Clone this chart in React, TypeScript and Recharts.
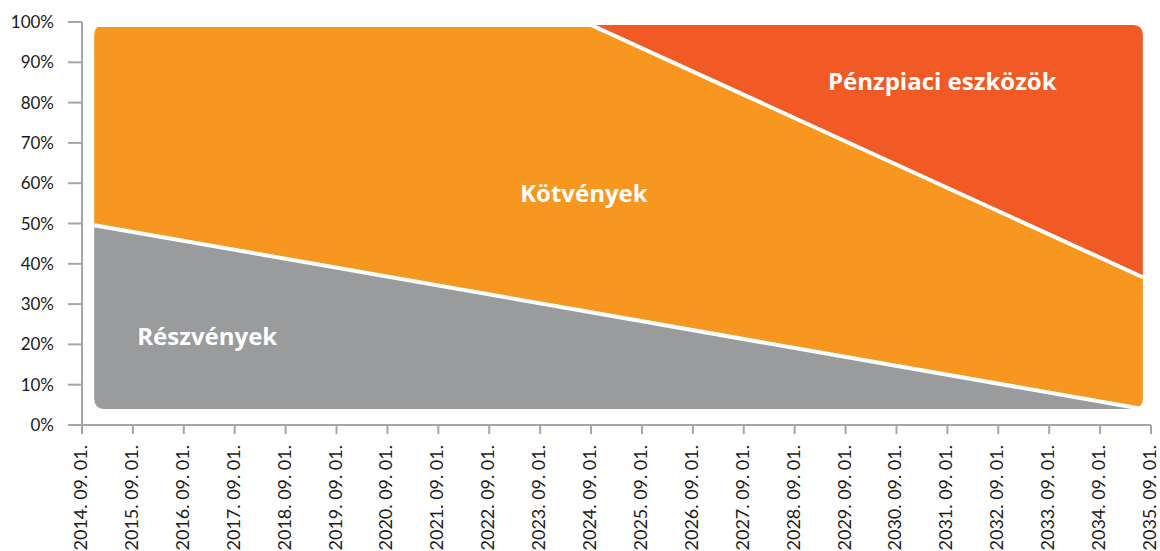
import React from "react";
import { ComposedChart, Area, Line, XAxis, YAxis, ReferenceDot, ReferenceArea } from "recharts";

// Year index positions (0 = 2014. 09. 01.) where the allocation boundaries bend
const xPoints = [0.24, 10, 20.84];
const baseValues = [3.97, 3.97, 3.97];
const stockValues = [45.6, 24.0, 0];
const bondValues = [49.7, 71.3, 32.7];
const moneyValues = [0, 0, 62.6];

const tickLabels = [
  "2014. 09. 01.", "2015. 09. 01.", "2016. 09. 01.", "2017. 09. 01.", "2018. 09. 01.",
  "2019. 09. 01.", "2020. 09. 01.", "2021. 09. 01.", "2022. 09. 01.", "2023. 09. 01.",
  "2024. 09. 01.", "2025. 09. 01.", "2026. 09. 01.", "2027. 09. 01.", "2028. 09. 01.",
  "2029. 09. 01.", "2030. 09. 01.", "2031. 09. 01.", "2032. 09. 01.", "2033. 09. 01.",
  "2034. 09. 01.", "2035. 09. 01.",
];
const yTicks = [0, 10, 20, 30, 40, 50, 60, 70, 80, 90, 100];

const seriesNames = ["Részvények", "Kötvények", "Pénzpiaci eszközök"];
const labelX = [2.46, 9.86, 16.9];
const labelY = [22.1, 57.8, 85.6];

const X_DOMAIN: [number, number] = [0, 21];
const Y_DOMAIN: [number, number] = [0, 100];

const data = xPoints.map((x, i) => ({
  x,
  base: baseValues[i],
  stock: stockValues[i],
  bond: bondValues[i],
  money: moneyValues[i],
  stockTop: baseValues[i] + stockValues[i],
  bondTop: baseValues[i] + stockValues[i] + bondValues[i],
}));

const last = xPoints.length - 1;
const areaLeft = xPoints[0];
const areaRight = xPoints[last];
const areaBottom = baseValues[0];
const areaTop = baseValues[0] + stockValues[0] + bondValues[0] + moneyValues[0];

const FONT = "Lato, 'Open Sans', sans-serif";
const LABEL_FONT = "'Open Sans', Lato, sans-serif";
const GRAY = "#9a9b9d";
const ORANGE = "#f7971f";
const RED = "#f15a24";
const AXIS = "#a6a6a6";

const XTick = (props: any) => {
  const { x, y, payload } = props;
  return (
    <text
      transform={`translate(${x - 2},${y}) rotate(-90)`}
      textAnchor="end"
      dominantBaseline="central"
      fontFamily={FONT}
      fontSize={18}
      fill="#1a1a1a"
    >
      {tickLabels[payload.value]}
    </text>
  );
};

const SeriesLabel = (text: string) => (props: any) => {
  const vb = props.viewBox || {};
  const cx = (vb.x ?? 0) + (vb.width ?? 0) / 2;
  const cy = (vb.y ?? 0) + (vb.height ?? 0) / 2;
  return (
    <text
      x={cx}
      y={cy}
      textAnchor="middle"
      dominantBaseline="central"
      fontFamily={LABEL_FONT}
      fontWeight={700}
      fontSize={24}
      fill="#ffffff"
    >
      {text}
    </text>
  );
};

// White masks that round the four corners of the stacked block
const CornerMasks = (props: any) => {
  const vb = props.viewBox || {};
  if (vb.width == null) return null;
  const L = vb.x;
  const R = vb.x + vb.width;
  const T = vb.y;
  const B = vb.y + vb.height;
  const r = 9;
  const e = 3;
  const paths = [
    `M${L - e},${T - e} L${L + r},${T - e} L${L + r},${T} A${r},${r} 0 0 0 ${L},${T + r} L${L - e},${T + r} Z`,
    `M${R + e},${T - e} L${R + e},${T + r} L${R},${T + r} A${r},${r} 0 0 0 ${R - r},${T} L${R - r},${T - e} Z`,
    `M${L - e},${B + e} L${L - e},${B - r} L${L},${B - r} A${r},${r} 0 0 0 ${L + r},${B} L${L + r},${B + e} Z`,
    `M${R + e},${B + e} L${R - r},${B + e} L${R - r},${B} A${r},${r} 0 0 0 ${R},${B - r} L${R + e},${B - r} Z`,
  ];
  return (
    <g>
      {paths.map((d, i) => (
        <path key={i} d={d} fill="#ffffff" stroke="none" />
      ))}
    </g>
  );
};

export default function App() {
  return (
    <div style={{ position: "absolute", left: 0, top: 0, width: 1160, height: 551, background: "#fff" }}>
      <ComposedChart
        width={1160}
        height={551}
        data={data}
        margin={{ top: 22, right: 9, bottom: 0, left: 0 }}
      >
        <XAxis
          dataKey="x"
          type="number"
          domain={X_DOMAIN}
          ticks={tickLabels.map((_, i) => i)}
          interval={0}
          height={126}
          tick={<XTick />}
          tickSize={9}
          tickMargin={11}
          axisLine={{ stroke: AXIS, strokeWidth: 2 }}
          tickLine={{ stroke: AXIS, strokeWidth: 2 }}
          allowDataOverflow
        />
        <YAxis
          type="number"
          domain={Y_DOMAIN}
          ticks={yTicks}
          interval={0}
          width={82}
          tickSize={14}
          tickMargin={14}
          tickFormatter={(v: number) => `${v}%`}
          tick={{ fontFamily: FONT, fontSize: 17, fill: "#1a1a1a" }}
          axisLine={{ stroke: AXIS, strokeWidth: 2 }}
          tickLine={{ stroke: AXIS, strokeWidth: 2 }}
          allowDataOverflow
        />
        <Area type="linear" dataKey="base" stackId="a" stroke="none" fill="none" fillOpacity={0} isAnimationActive={false} activeDot={false} />
        <Area type="linear" dataKey="stock" stackId="a" stroke="none" fill={GRAY} fillOpacity={1} isAnimationActive={false} activeDot={false} />
        <Area type="linear" dataKey="bond" stackId="a" stroke="none" fill={ORANGE} fillOpacity={1} isAnimationActive={false} activeDot={false} />
        <Area type="linear" dataKey="money" stackId="a" stroke="none" fill={RED} fillOpacity={1} isAnimationActive={false} activeDot={false} />
        <Line type="linear" dataKey="stockTop" stroke="#ffffff" strokeWidth={4} dot={false} activeDot={false} isAnimationActive={false} />
        <Line type="linear" dataKey="bondTop" stroke="#ffffff" strokeWidth={4} dot={false} activeDot={false} isAnimationActive={false} />
        <ReferenceArea
          x1={areaLeft}
          x2={areaRight}
          y1={areaBottom}
          y2={areaTop}
          fill="none"
          fillOpacity={0}
          stroke="none"
          ifOverflow="visible"
          label={CornerMasks}
        />
        {seriesNames.map((name, i) => (
          <ReferenceDot
            key={name}
            x={labelX[i]}
            y={labelY[i]}
            r={0}
            fill="none"
            stroke="none"
            ifOverflow="visible"
            label={SeriesLabel(name)}
          />
        ))}
      </ComposedChart>
    </div>
  );
}
